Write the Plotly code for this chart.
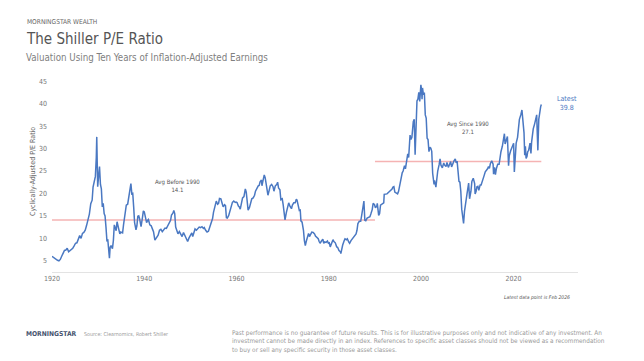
import plotly.graph_objects as go

# ---- data ----
years = [
1920.0,1920.3,1920.6,1920.9,1921.2,1921.5,1921.8,1922.1,1922.4,1922.7,1923.0,1923.3,1923.6,1923.9,
1924.2,1924.5,1924.8,1925.1,1925.4,1925.7,1926.0,1926.3,1926.6,1926.9,1927.2,1927.5,1927.8,1928.1,
1928.4,1928.7,1928.9,1929.1,1929.4,1929.6,1929.7,1929.8,1929.9,1930.1,1930.3,1930.5,1930.7,1930.9,
1931.1,1931.3,1931.5,1931.7,1931.9,1932.1,1932.3,1932.45,1932.6,1932.8,1933.1,1933.3,1933.5,1933.7,
1933.9,1934.1,1934.3,1934.5,1934.7,1934.9,1935.1,1935.3,1935.5,1935.7,1935.9,1936.1,1936.4,1936.7,
1936.9,1937.1,1937.3,1937.5,1937.7,1937.9,1938.2,1938.4,1938.6,1938.8,1939.0,1939.3,1939.6,1939.8,
1940.0,1940.3,1940.5,1940.7,1940.9,1941.2,1941.5,1941.8,1942.0,1942.3,1942.5,1942.8,1943.0,1943.3,
1943.6,1943.9,1944.2,1944.5,1944.8,1945.1,1945.4,1945.7,1945.9,1946.2,1946.4,1946.6,1946.8,1947.0,
1947.3,1947.6,1947.9,1948.2,1948.5,1948.8,1949.0,1949.4,1949.7,1950.0,1950.3,1950.5,1950.8,1951.0,
1951.3,1951.6,1951.9,1952.2,1952.5,1952.8,1953.0,1953.3,1953.6,1953.9,1954.2,1954.5,1954.8,1955.0,
1955.3,1955.6,1955.9,1956.1,1956.3,1956.6,1956.9,1957.1,1957.4,1957.6,1957.8,1958.0,1958.3,1958.6,
1958.9,1959.1,1959.4,1959.7,1959.9,1960.1,1960.4,1960.6,1960.8,1961.0,1961.3,1961.6,1961.9,1962.1,
1962.3,1962.5,1962.8,1963.0,1963.3,1963.6,1963.9,1964.1,1964.4,1964.7,1964.9,1965.1,1965.4,1965.5,
1965.8,1966.0,1966.2,1966.5,1966.8,1967.0,1967.3,1967.6,1967.9,1968.1,1968.4,1968.7,1968.9,1969.1,
1969.4,1969.6,1969.9,1970.1,1970.4,1970.5,1970.8,1971.0,1971.3,1971.6,1971.9,1972.1,1972.4,1972.7,
1972.95,1973.1,1973.4,1973.6,1973.8,1973.95,1974.2,1974.5,1974.7,1974.9,1975.1,1975.4,1975.6,1975.8,
1976.0,1976.3,1976.6,1976.9,1977.1,1977.4,1977.7,1977.9,1978.1,1978.4,1978.7,1978.9,1979.1,1979.4,
1979.7,1979.9,1980.1,1980.3,1980.6,1980.9,1981.1,1981.4,1981.7,1981.9,1982.2,1982.5,1982.6,1982.8,
1983.0,1983.3,1983.5,1983.8,1984.0,1984.3,1984.5,1984.8,1985.0,1985.3,1985.6,1985.9,1986.1,1986.3,
1986.6,1986.9,1987.1,1987.3,1987.6,1987.8,1988.0,1988.3,1988.6,1988.9,1989.1,1989.4,1989.6,1989.9,
1990.1,1990.4,1990.5,1990.8,1991.0,1991.2,1991.5,1991.9,1992.0,1992.3,1992.6,1992.9,1993.1,1993.4,
1993.7,1993.9,1994.1,1994.3,1994.6,1994.9,1995.1,1995.4,1995.6,1995.9,1996.1,1996.4,1996.6,1996.9,
1997.1,1997.3,1997.6,1997.8,1998.0,1998.3,1998.5,1998.7,1998.9,1999.1,1999.3,1999.5,1999.7,1999.95,
2000.1,2000.2,2000.3,2000.5,2000.7,2000.9,2001.1,2001.3,2001.5,2001.7,2001.9,2002.1,2002.3,2002.5,
2002.8,2002.9,2003.2,2003.4,2003.6,2003.9,2004.1,2004.3,2004.6,2004.9,2005.1,2005.4,2005.6,2005.9,
2006.1,2006.4,2006.6,2006.9,2007.1,2007.4,2007.6,2007.8,2007.95,2008.2,2008.4,2008.6,2008.8,2008.95,
2009.1,2009.2,2009.4,2009.6,2009.8,2010.0,2010.3,2010.5,2010.8,2011.0,2011.3,2011.6,2011.7,2011.9,
2012.1,2012.3,2012.5,2012.8,2013.0,2013.3,2013.6,2013.9,2014.1,2014.4,2014.6,2014.8,2015.0,2015.3,
2015.6,2015.7,2015.9,2016.1,2016.3,2016.6,2016.9,2017.1,2017.3,2017.6,2017.9,2018.05,2018.2,2018.5,
2018.7,2018.95,2019.1,2019.4,2019.6,2019.9,2020.05,2020.2,2020.4,2020.6,2020.9,2021.1,2021.3,2021.6,
2021.85,2022.0,2022.3,2022.45,2022.6,2022.75,2022.95,2023.1,2023.3,2023.6,2023.8,2023.95,2024.1,2024.3,
2024.6,2024.9,2025.05,2025.2,2025.3,2025.5,2025.7,2025.9,2026.05]
cape = [
6.0,5.8,5.4,5.2,5.1,5.0,5.3,6.0,6.8,7.3,7.4,7.8,7.0,7.2,
7.5,7.8,8.3,8.9,9.0,9.8,10.6,10.0,11.1,11.3,11.8,12.9,14.2,15.4,
17.7,18.5,21.4,22.8,23.8,28.0,32.6,27.0,21.5,23.8,26.0,22.0,21.0,17.0,
17.8,15.5,15.0,12.5,9.5,9.6,7.0,5.6,8.0,8.4,7.7,9.5,13.0,12.0,
11.7,13.7,12.5,11.8,11.0,11.4,11.2,11.2,13.0,14.5,16.0,17.4,17.6,19.2,
21.0,22.2,19.9,20.0,17.0,13.5,11.9,12.8,14.9,15.0,14.3,12.6,14.6,16.1,
15.9,14.0,13.5,14.0,14.2,13.0,12.8,12.0,11.5,9.6,10.0,10.4,10.7,11.8,
12.0,11.5,11.8,12.3,12.2,12.8,13.5,14.0,15.2,15.6,16.2,15.5,12.5,11.6,
11.0,11.5,11.0,10.4,11.3,10.6,10.1,9.3,10.1,10.6,11.2,10.4,11.5,12.1,
11.8,12.3,12.5,12.4,12.6,12.2,12.4,11.8,11.4,11.6,12.4,13.6,14.4,15.8,
16.9,18.3,17.6,17.8,18.9,18.8,17.7,17.0,17.5,17.3,14.6,14.5,15.1,16.0,
17.3,18.0,18.3,18.0,18.1,18.0,17.2,17.0,16.5,17.8,19.0,19.3,21.0,20.3,
18.4,16.3,16.9,17.9,18.8,19.0,19.6,20.5,21.2,21.7,21.8,22.6,23.0,21.7,
23.2,24.1,23.5,21.7,19.6,20.4,21.7,22.0,21.5,20.5,21.7,22.0,22.5,21.2,
20.8,18.6,18.8,17.5,14.5,14.1,15.8,16.6,17.9,17.1,16.6,17.4,17.9,17.9,
18.7,18.5,16.5,16.2,16.3,13.9,13.6,11.8,9.5,8.4,9.3,10.6,11.1,10.4,
11.0,11.4,11.3,11.0,10.5,10.2,9.9,9.3,8.9,9.4,9.8,8.9,9.2,9.1,
9.4,8.9,9.0,8.1,9.0,9.7,9.3,9.0,8.1,8.0,7.3,7.0,6.6,7.8,
8.5,9.4,9.9,9.7,9.9,9.2,8.9,9.5,9.8,10.3,10.6,11.0,11.8,13.3,
13.8,13.8,15.0,16.9,18.3,14.0,13.9,14.5,14.6,14.8,15.4,16.4,17.8,17.5,
16.8,17.2,17.8,15.1,15.5,17.4,17.6,17.9,19.8,19.8,19.9,20.2,20.4,20.5,
21.0,21.4,21.5,20.3,20.1,19.9,20.4,22.0,23.5,24.6,25.0,26.2,25.5,27.6,
28.8,28.0,33.0,32.0,32.5,36.0,36.5,28.6,33.5,40.6,41.0,42.5,40.5,44.2,
43.0,41.0,43.5,42.0,42.5,37.5,36.8,32.3,32.0,29.3,30.3,30.1,29.4,24.5,
22.0,22.9,21.4,24.0,25.0,26.4,27.7,26.3,25.7,26.8,26.3,26.0,26.9,25.8,
26.5,27.1,25.9,27.0,27.2,27.7,26.8,27.2,24.5,22.7,22.5,20.5,16.5,15.2,
14.5,13.3,16.0,17.6,19.8,20.3,22.3,18.8,20.5,22.7,23.4,22.2,19.9,20.4,
21.5,21.6,20.7,21.9,21.9,22.7,23.8,24.8,25.0,25.5,26.0,25.6,26.6,27.3,
26.5,24.3,25.8,24.2,25.5,26.5,26.5,28.5,29.3,30.5,32.0,33.3,31.0,31.8,
32.7,26.2,28.4,29.5,30.0,30.7,31.2,24.8,28.5,31.2,32.5,35.0,36.5,37.5,
38.6,36.9,33.5,28.5,30.5,27.8,28.3,29.3,29.6,31.2,28.9,31.5,33.0,34.4,
35.5,37.2,37.5,32.5,29.6,36.5,38.5,39.3,39.8]

avg_periods_x = [[1920, 1990], [1990, 2026.05]]
avg_values = [14.1, 27.1]
avg_labels = ["Avg Before 1990", "Avg Since 1990"]
latest_value = 39.8
x_ticks = [1920, 1940, 1960, 1980, 2000, 2020]
y_ticks = [5, 10, 15, 20, 25, 30, 35, 40, 45]

BLUE = "#4a78c2"
PINK = "#f5b3b3"
NARROW = "Liberation Sans Narrow, DejaVu Sans Condensed, Roboto, sans-serif"

# the page places the figure 8px in from the top-left corner
OFF = 8
FW, FH = 628, 345
L, R, T, B = 52 - OFF, FW - (578 - OFF), 81 - OFF, FH - (272 - OFF)
W, H = FW - L - R, FH - T - B

fig = go.Figure()
for px, v in zip(avg_periods_x, avg_values):
    fig.add_trace(go.Scatter(x=px, y=[v, v], mode="lines",
                             line=dict(color=PINK, width=1.5), hoverinfo="skip"))
fig.add_trace(go.Scatter(x=years, y=cape, mode="lines",
                         line=dict(color=BLUE, width=1.5)))

annotations = [
    dict(x=1947.1, y=21.8, xref="x", yref="y",
         text=f"{avg_labels[0]}<br>{avg_values[0]}", showarrow=False,
         font=dict(family=NARROW, size=6, color="#555555")),
    dict(x=2010.1, y=34.7, xref="x", yref="y",
         text=f"{avg_labels[1]}<br>{avg_values[1]}", showarrow=False,
         font=dict(family=NARROW, size=6, color="#555555")),
    dict(x=2031.7, y=40.0, xref="x", yref="y",
         text=f"Latest<br>{latest_value}", showarrow=False,
         font=dict(family=NARROW, size=7, color=BLUE)),
]

def to_paper_x(px):
    return (px - OFF - L) / W

def to_paper_y(py):
    return 1 - (py - OFF - T) / H

# figure-level texts: (page x, page y, text, size, color, anchor)
items = [
    (25, 21.7, "MORNINGSTAR WEALTH", 6.6, "#666666", "left"),
    (24, 39, "The Shiller P/E Ratio", 15, "#555555", "left"),
    (24, 57, "Valuation Using Ten Years of Inflation-Adjusted Earnings", 9.7, "#808080", "left"),
    (24, 334, "<b>MORNINGSTAR</b>", 6.7, "#46536e", "left"),
    (82, 334, "Source: Clearnomics, Robert Shiller", 5.3, "#9a9a9a", "left"),
    (572, 297, "<i>Latest data point is Feb 2026</i>", 5.0, "#555555", "right"),
]
for (x, y, t, s, c, xa) in items:
    annotations.append(dict(x=to_paper_x(x), y=to_paper_y(y), xref="paper", yref="paper",
                            text=t, showarrow=False, xanchor=xa, yanchor="middle",
                            font=dict(family=NARROW, size=s, color=c)))
annotations.append(dict(x=to_paper_x(230), y=to_paper_y(341), xref="paper", yref="paper",
                        text="Past performance is no guarantee of future results. This is for illustrative purposes only and not indicative of any investment. An<br>"
                             "investment cannot be made directly in an index. References to specific asset classes should not be viewed as a recommendation<br>"
                             "to buy or sell any specific security in those asset classes.",
                        showarrow=False, xanchor="left", yanchor="middle", align="left",
                        font=dict(family=NARROW, size=6.4, color="#9a9a9a")))
annotations.append(dict(x=to_paper_x(33), y=to_paper_y(172), xref="paper", yref="paper",
                        text="Cyclically-Adjusted P/E Ratio",
                        textangle=-90, showarrow=False, xanchor="center", yanchor="middle",
                        font=dict(family=NARROW, size=7, color="#666666")))

fig.update_layout(
    width=FW, height=FH,
    margin=dict(l=L, r=R, t=T, b=B),
    paper_bgcolor="white", plot_bgcolor="white",
    showlegend=False,
    annotations=annotations,
    xaxis=dict(range=[1920, 2034], tickvals=x_ticks, showgrid=False, zeroline=False,
               showline=True, linecolor="#e3e3e3", linewidth=1, ticks="", automargin=False,
               tickfont=dict(family=NARROW, size=7, color="#777777")),
    yaxis=dict(range=[2.5, 45.05], tickvals=y_ticks, showgrid=False, zeroline=False,
               showline=False, ticks="", ticklabelstandoff=4, automargin=False,
               tickfont=dict(family=NARROW, size=7, color="#777777")),
)

fig.write_html("out.html")
